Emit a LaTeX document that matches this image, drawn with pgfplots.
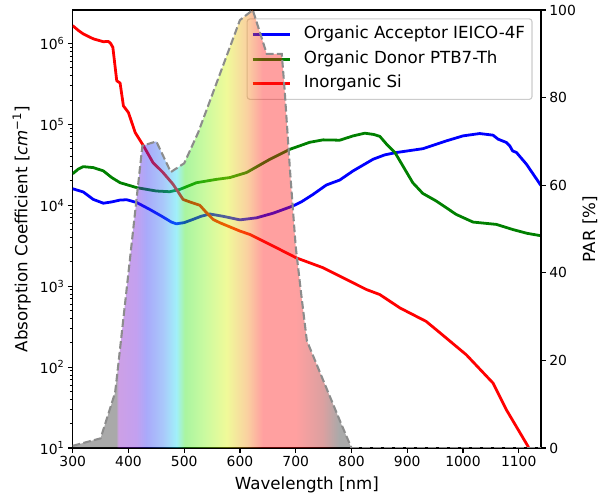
\documentclass[border=0pt]{standalone}
\usepackage{fontspec}
\setmainfont{DejaVu Sans}
\usepackage{pgfplots}
\pgfplotsset{compat=1.18}
\newcommand{\mpl}{\fontsize{13.9bp}{16.7bp}\selectfont}
\newcommand{\mplL}{\fontsize{16.67bp}{20bp}\selectfont}
\pgfdeclarehorizontalshading{spectrum}{100bp}{%
rgb(0bp)=(0.16,0.16,0.16);
rgb(32.8bp)=(0.16,0.16,0.16);
rgb(33.2bp)=(0.51,0.07,0.75);
rgb(36.4bp)=(0.41,0.07,0.85);
rgb(38.2bp)=(0.16,0.16,0.95);
rgb(41.2bp)=(0.16,0.46,0.95);
rgb(43.6bp)=(0.07,0.85,0.95);
rgb(45.1bp)=(0.16,0.90,0.07);
rgb(48.4bp)=(0.46,0.95,0.07);
rgb(52.6bp)=(0.85,0.95,0.0);
rgb(56.2bp)=(0.95,0.56,0.07);
rgb(59.1bp)=(1.0,0.07,0.07);
rgb(65bp)=(1.0,0.07,0.07);
rgb(69.9bp)=(0.65,0.07,0.07);
rgb(72.8bp)=(0.16,0.16,0.16);
rgb(100bp)=(0.16,0.16,0.16)}

\pgfplotstableread{
nm par
300 0.5
350 2.2
376 12.6
380 17
400 40
425 69
450 70
476 63
500 65
525 72
600 97.7
623 100
648 90
675 90
680 82
690 63
700 46
710 35
720 24.5
780 6
800 0
}\partable

\pgfplotsset{
  common/.style={
    scale only axis, width=468.3bp, height=438bp,
    xmin=300, xmax=1140,
    tick align=outside,
    major tick length=4.86bp, minor tick length=2.78bp,
    major tick style={line width=1.11bp, black},
    minor tick style={line width=0.83bp, black},
    axis line style={line width=1.11bp, black},
    tick label style={font=\mpl},
    /pgf/number format/assume math mode=true,
    /pgf/number format/1000 sep={},
  }
}

\begin{document}
\begin{tikzpicture}
\path (-72.7bp,-51bp) rectangle (534.3bp,448bp);
\begin{axis}[common,
  ymode=log, log basis y=10, ymin=10, ymax=2.59e6,
  xtick={300,400,...,1100},
  xtick pos=left, ytick pos=left,
  yticklabel={10\textsuperscript{\pgfmathparse{int(round(\tick))}\pgfmathresult}},
  xlabel={Wavelength [nm]},
  ylabel={Absorption Coefficient [\textit{cm}\textsuperscript{−1}]},
  every axis x label/.style={at={(axis description cs:0.5,-0.0845)}, anchor=center, font=\mplL},
  every axis y label/.style={at={(axis description cs:-0.109,0.5)}, anchor=center, rotate=90, font=\mplL},
  legend cell align=left,
  legend style={at={(0.982,0.981)}, anchor=north east, draw=black!20, line width=1.11bp,
    fill=white, fill opacity=0.8, text opacity=1, rounded corners=2.8bp, font=\mplL,
    inner xsep=4bp, inner ysep=8bp, row sep=9bp, column sep=10bp,
    nodes={inner xsep=3bp, inner ysep=0bp, text height=12bp, text depth=3.5bp}},
  legend image code/.code={\draw[#1] (0bp,0bp) -- (37bp,0bp);},
]
\addplot[blue, line width=2.78bp, line join=round] coordinates {
(300,1.6e4) (319,1.46e4) (337,1.18e4) (355,1.06e4) (370,1.1e4) (385,1.16e4)
(397,1.17e4) (415,1.08e4) (438,8.9e3) (460,7.3e3) (477,6.2e3) (486,5.9e3)
(500,6.1e3) (516,6.7e3) (530,7.3e3) (546,7.8e3) (570,7.3e3) (600,6.6e3)
(630,7.0e3) (660,8.0e3) (695,9.8e3) (710,1.1e4) (731,1.36e4) (755,1.78e4)
(779,2.05e4) (803,2.66e4) (839,3.71e4) (860,4.2e4) (881,4.49e4) (928,5.0e4)
(970,6.24e4) (1000,7.2e4) (1030,7.7e4) (1054,7.35e4) (1063,6.56e4) (1078,5.97e4)
(1084,5.42e4) (1089,4.7e4) (1096,4.49e4) (1114,3.21e4) (1140,1.75e4)
};
\addlegendentry{Organic Acceptor IEICO-4F}
\addplot[color={rgb,255:red,0;green,128;blue,0}, line width=2.78bp, line join=round] coordinates {
(300,2.45e4) (310,2.8e4) (319,3.0e4) (337,2.92e4) (355,2.66e4) (370,2.2e4)
(385,1.9e4) (415,1.65e4) (450,1.5e4) (474,1.47e4) (492,1.57e4) (522,1.9e4)
(558,2.09e4) (582,2.2e4) (612,2.54e4) (654,3.71e4) (690,4.93e4) (707,5.42e4)
(725,6.0e4) (749,6.43e4) (779,6.37e4) (803,7.2e4) (824,7.78e4) (840,7.5e4)
(851,7.1e4) (863,5.69e4) (878,4.49e4) (893,3.0e4) (910,1.9e4) (928,1.4e4)
(952,1.13e4) (988,7.7e3) (1018,6.2e3) (1060,5.8e3) (1090,5.0e3) (1115,4.5e3)
(1140,4.2e3)
};
\addlegendentry{Organic Donor PTB7-Th}
\addplot[red, line width=2.78bp, line join=round] coordinates {
(300,1.66e6) (310,1.45e6) (319,1.31e6) (337,1.14e6) (355,1.05e6) (364,1.06e6)
(368,1.0e6) (372,8.97e5) (379,3.46e5) (385,3.24e5) (391,1.69e5) (400,1.4e5)
(412,7.94e4) (427,5.42e4) (444,3.37e4) (462,2.54e4) (480,1.82e4) (498,1.18e4)
(510,1.1e4) (528,1.0e4) (540,8.1e3) (552,6.68e3) (564,6.08e3) (600,4.8e3)
(618,4.35e3) (660,3.12e3) (701,2.24e3) (749,1.69e3) (779,1.33e3) (827,908)
(851,787) (887,538) (934,367) (952,290) (1006,142) (1054,63.4) (1078,29.6)
(1117,10.4) (1125,6)
};
\addlegendentry{Inorganic Si}
\end{axis}
\begin{axis}[common,
  ymin=0, ymax=100,
  axis x line=none, axis y line*=right,
  ytick={0,20,...,100},
  ylabel={PAR [\%]},
  every axis y label/.style={at={(axis description cs:1.1046,0.5)}, anchor=center, rotate=90, font=\mplL},
]
\addplot[draw=none, shade, shading=spectrum, fill opacity=0.4] table[x=nm, y=par] {\partable} \closedcycle;
\addplot[color={rgb,255:red,140;green,140;blue,140}, line width=2.08bp, dash pattern=on 7.7bp off 3.3bp] table[x=nm, y=par] {\partable};
\addplot[color={rgb,255:red,140;green,140;blue,140}, line width=2.08bp, dash pattern=on 7.7bp off 3.3bp] coordinates {(800,0) (1140,0)};
\end{axis}
\end{tikzpicture}
\end{document}
